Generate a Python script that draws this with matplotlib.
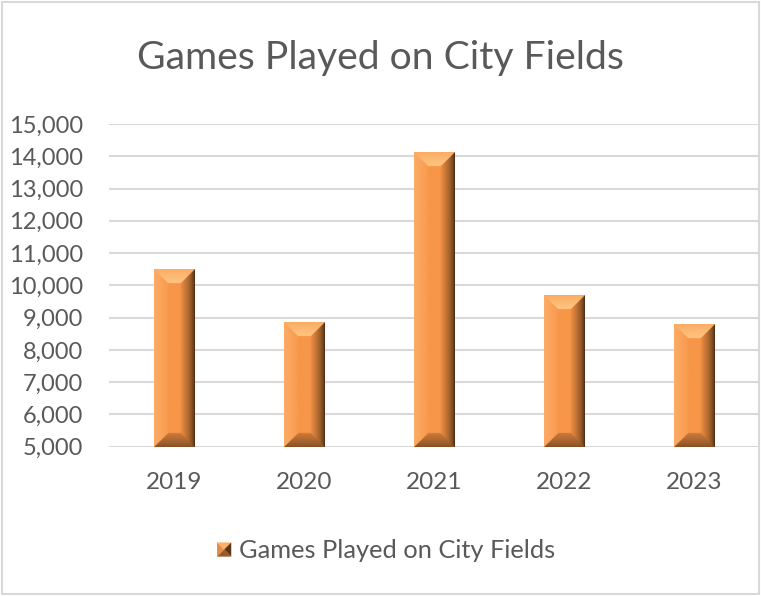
import numpy as np
import matplotlib
matplotlib.use("Agg")
import matplotlib.pyplot as plt
from matplotlib.patches import Rectangle, Polygon
from matplotlib.legend_handler import HandlerBase
from matplotlib.ticker import FuncFormatter

years = ["2019", "2020", "2021", "2022", "2023"]
games = [10500, 8870, 14130, 9680, 8800]
series_name = "Games Played on City Fields"
y_min, y_max, y_step = 5000, 15000, 1000

plt.rcParams["font.family"] = ["Lato", "DejaVu Sans"]
text_grey = "#595959"

# bevel palette (rgb 0-1): each facet goes from its edge colour to its inner colour
face = np.array([247, 150, 72]) / 255
facet_cols = {
    0: (np.array([250, 172, 100]) / 255, np.array([255, 198, 130]) / 255),  # top
    1: (np.array([252, 172, 105]) / 255, np.array([248, 154, 76]) / 255),   # left
    2: (np.array([55, 32, 14]) / 255, np.array([238, 142, 66]) / 255),      # right
    3: (np.array([130, 78, 36]) / 255, np.array([205, 122, 58]) / 255),     # bottom
}
facet_gamma = {0: 1.0, 1: 1.0, 2: 0.55, 3: 0.8}


def bevel_image(w_px, h_px, depth, ss=4):
    w, h, dep = int(w_px * ss), int(h_px * ss), depth * ss
    yy, xx = np.mgrid[0:h, 0:w] + 0.5
    d = np.stack([yy, xx, w - xx, h - yy])  # top, left, right, bottom
    facet = d.argmin(axis=0)
    t = np.clip(d.min(axis=0) / dep, 0, 1)
    img = np.empty((h, w, 3))
    img[:] = face
    for k, (edge, inner) in facet_cols.items():
        m = (facet == k) & (t < 1)
        tt = t[m][:, None] ** facet_gamma[k]
        img[m] = edge + (inner - edge) * tt
    return img


fig = plt.figure(figsize=(7.61, 5.96), dpi=100)
ax = fig.add_axes([109 / 761, 149.3 / 596, 650 / 761, 322.7 / 596])
ax.set_xlim(-0.5, len(years) - 0.5)
ax.set_ylim(y_min, y_max)
ax.set_yticks(np.arange(y_min, y_max + 1, y_step))
ax.yaxis.set_major_formatter(FuncFormatter(lambda v, p: f"{v:,.0f}"))
ax.set_xticks(range(len(years)), years)
ax.grid(axis="y", color="#D9D9D9", lw=1.5)
ax.set_axisbelow(True)
for s in ax.spines.values():
    s.set_visible(False)
ax.tick_params(axis="y", length=0, labelsize=17, labelcolor=text_grey, pad=18.5)
ax.tick_params(axis="x", length=0, labelsize=17.5, labelcolor=text_grey, pad=18)

x = np.arange(len(years))
bars = ax.bar(x, np.array(games) - y_min, bottom=y_min, width=0.31,
              color=face, label=series_name, zorder=2)

# paint each bar with a bevelled image of the same extent
fig.canvas.draw()
for b in bars:
    x0, y0, bw, bh = b.get_x(), b.get_y(), b.get_width(), b.get_height()
    (px0, py0), (px1, py1) = ax.transData.transform([(x0, y0), (x0 + bw, y0 + bh)])
    img = bevel_image(px1 - px0, py1 - py0, depth=14)
    ax.imshow(img, extent=(x0, x0 + bw, y0, y0 + bh), aspect="auto",
              interpolation="antialiased", zorder=3)
    b.set_visible(False)
ax.set_xlim(-0.5, len(years) - 0.5)
ax.set_ylim(y_min, y_max)


class BevelSquareHandler(HandlerBase):
    def create_artists(self, legend, orig_handle, xdescent, ydescent,
                       width, height, fontsize, trans):
        s = min(width, height)
        x0 = -xdescent + (width - s) / 2
        y0 = -ydescent + (height - s) / 2
        c = (x0 + s / 2, y0 + s / 2)
        tl, tr = (x0, y0 + s), (x0 + s, y0 + s)
        bl, br = (x0, y0), (x0 + s, y0)
        tris = [
            ([tl, tr, c], "#FDB068"),
            ([tl, bl, c], "#E58C45"),
            ([tr, br, c], "#5A3516"),
            ([bl, br, c], "#9A5A26"),
        ]
        return [Polygon(pts, closed=True, facecolor=col, edgecolor="none",
                        transform=trans) for pts, col in tris]


fig.legend([bars], [series_name], loc="center",
           bbox_to_anchor=(386 / 761, 1 - 551 / 596), frameon=False,
           fontsize=18.3, labelcolor=text_grey, handlelength=0.56,
           handleheight=0.56, handletextpad=0.3,
           handler_map={type(bars): BevelSquareHandler()})

fig.text(0.5, 1 - 58 / 596, series_name, ha="center", va="center",
         fontsize=28.2, color=text_grey)

fig.patches.append(Rectangle((2 / 761, 2 / 596), 757 / 761, 592 / 596,
                             transform=fig.transFigure, fill=False,
                             edgecolor="#D9D9D9", lw=1.5))

fig.savefig("out.png", dpi=100)
